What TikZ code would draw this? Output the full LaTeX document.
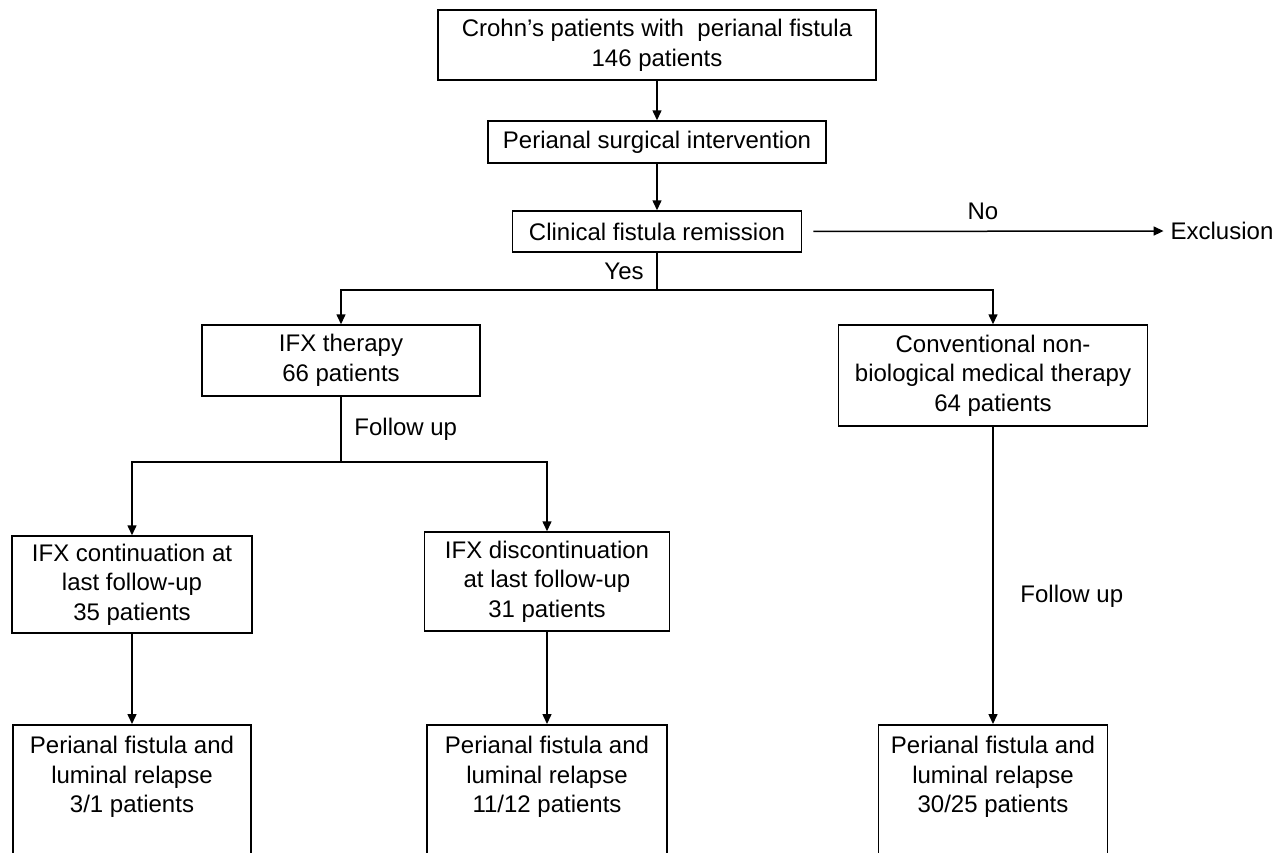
\documentclass[tikz,border=0pt]{standalone}
\usepackage{fontspec}
\setmainfont{Liberation Sans}
\usetikzlibrary{arrows.meta}

\begin{document}
\begin{tikzpicture}[x=0.5pt,y=-0.5pt,
    box/.style={draw,line width=0.75pt,align=center,inner sep=2pt},
    arrow/.style={line width=0.75pt,-{Triangle[length=5pt,width=4.5pt]}},
    line/.style={line width=0.75pt},
    font=\fontsize{12}{14.8}\selectfont]

        \useasboundingbox (0, 0) rectangle (1286, 852);
        \clip (0, 0) rectangle (1286, 852);

        \node[box,minimum width=219pt,minimum height=35pt] (crohn) at (657, 45) {Crohn’s patients with \ perianal fistula\\146 patients};
        \node[box,minimum width=169pt,minimum height=21pt] (surg) at (657, 142) {Perianal surgical intervention};
        \node[box,minimum width=144.5pt,minimum height=20.5pt] (remis) at (657, 231.5) {Clinical fistula remission};
        \node (excl) at (1222, 231) {Exclusion};

        \node[box,minimum width=139pt,minimum height=35.5pt] (ifx) at (341, 360.5) {IFX therapy\\66 patients};
        \node[box,minimum width=154.5pt,minimum height=50.5pt] (conv) at (993, 375.5) {Conventional non-\\biological medical therapy\\64 patients};

        \node[box,minimum width=120pt,minimum height=48.5pt] (cont) at (132, 584.5) {IFX continuation at\\last follow-up\\35 patients};
        \node[box,minimum width=122.5pt,minimum height=49.5pt] (disc) at (547, 581.5) {IFX discontinuation\\at last follow-up\\31 patients};

        % relapse boxes run off the bottom edge
        \node[box,anchor=north,minimum width=119pt,text height=42pt,text depth=90pt] (relA) at (132, 724) {Perianal fistula and\\luminal relapse\\3/1 patients};
        \node[box,anchor=north,minimum width=120pt,text height=42pt,text depth=90pt] (relB) at (547, 724) {Perianal fistula and\\luminal relapse\\11/12 patients};
        \node[box,anchor=north,minimum width=114.5pt,text height=42pt,text depth=90pt] (relC) at (993, 724) {Perianal fistula and\\luminal relapse\\30/25 patients};

        \coordinate (yes) at (657, 290);
        \coordinate (fup) at (341, 462);

        \draw[arrow] (crohn) -- (surg);
        \draw[arrow] (surg) -- (remis);
        \draw[arrow,shorten <=5.5pt] (remis.east) -- (excl.west) node[midway,above=2pt] {No};

        \draw[line] (remis.south) -- (yes) node[pos=0.5,left=3pt] {Yes};
        \draw[arrow] (yes) -| (ifx.north);
        \draw[arrow] (yes) -| (conv.north);

        \draw[line] (ifx.south) -- (fup) node[pos=0.5,right=3pt] {Follow up};
        \draw[arrow] (fup) -| (cont.north);
        \draw[arrow] (fup) -| (disc.north);

        \draw[arrow] (cont.south) -- (relA.north);
        \draw[arrow] (disc.south) -- (relB.north);
        \draw[arrow] (conv.south) -- (relC.north) node[pos=0.57,right=10pt] {Follow up};
      \end{tikzpicture}
\end{document}
